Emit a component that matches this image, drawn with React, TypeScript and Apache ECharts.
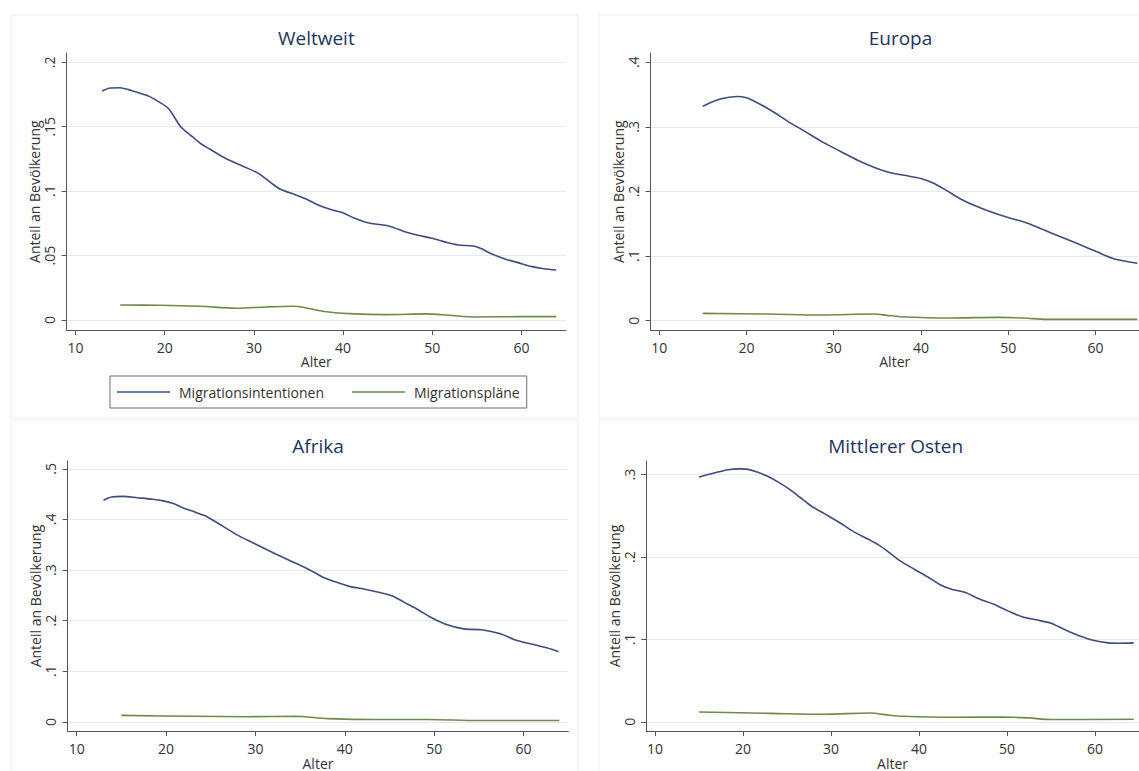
import React, { useEffect, useRef } from "react";
import * as echarts from "echarts";

// ---------- data ----------
const xTicks = [10, 20, 30, 40, 50, 60];
const seriesNames = ["Migrationsintentionen", "Migrationspläne"];
const panelTitles = ["Weltweit", "Europa", "Afrika", "Mittlerer Osten"];
const yAxisTitle = "Anteil an Bevölkerung";
const xAxisTitle = "Alter";

const yTicksWelt = [0, 0.05, 0.1, 0.15, 0.2];
const yTicksEuropa = [0, 0.1, 0.2, 0.3, 0.4];
const yTicksAfrika = [0, 0.1, 0.2, 0.3, 0.4, 0.5];
const yTicksMO = [0, 0.1, 0.2, 0.3];

// Weltweit
const weltIntentAge = [13, 13.9, 15, 16, 18.1, 19.3, 20.4, 21.8, 23.1, 24.1, 25.1, 26.8, 28.9, 30.5, 32, 33, 34.7, 35.9, 37.2, 38.8, 40.1, 41.3, 43, 45.1, 47.1, 48.4, 50, 51.3, 52.9, 54.6, 55.4, 56.7, 58.3, 59.6, 61.2, 62.5, 63.9];
const weltIntent = [0.1778, 0.18, 0.1803, 0.1786, 0.174, 0.1695, 0.1643, 0.15, 0.1423, 0.1366, 0.1325, 0.1255, 0.119, 0.1138, 0.106, 0.1014, 0.097, 0.0937, 0.0893, 0.0854, 0.0828, 0.0789, 0.075, 0.073, 0.068, 0.0657, 0.0634, 0.0608, 0.0582, 0.0574, 0.0556, 0.0512, 0.047, 0.0445, 0.0414, 0.0398, 0.0388];
const weltPlanAge = [15, 19.4, 23.9, 28, 31.4, 34.4, 35.5, 37.7, 40.7, 44.8, 49.3, 51.9, 54.9, 59.8, 63.9];
const weltPlan = [0.0116, 0.0114, 0.0106, 0.0091, 0.0101, 0.0106, 0.0099, 0.0068, 0.0049, 0.0041, 0.0047, 0.0036, 0.0023, 0.0026, 0.0026];

// Europa
const europaIntentAge = [15, 17, 18.9, 20, 21.5, 23.1, 24.7, 26.7, 28.8, 30.8, 32.8, 34.9, 36.5, 38.1, 40, 41.4, 43, 44.6, 46.3, 47.9, 49.9, 52, 54, 56, 58, 60.1, 62.1, 64.8];
const europaIntent = [0.332, 0.343, 0.347, 0.345, 0.3355, 0.323, 0.309, 0.293, 0.276, 0.262, 0.248, 0.236, 0.229, 0.225, 0.22, 0.213, 0.201, 0.188, 0.1775, 0.169, 0.16, 0.152, 0.141, 0.13, 0.119, 0.107, 0.096, 0.089];
const europaPlanAge = [15, 22.6, 28.6, 34.6, 36.1, 37.6, 43.2, 48.8, 51.8, 54.4, 64.8];
const europaPlan = [0.0114, 0.0103, 0.0088, 0.0103, 0.0083, 0.0062, 0.0042, 0.0052, 0.0042, 0.0021, 0.0021];

// Afrika
const afrikaIntentAge = [13, 13.9, 15.2, 16.8, 18.5, 19.7, 20.8, 21.8, 23, 24.3, 25.5, 26.8, 28, 29.7, 31.3, 33, 34.6, 36.3, 37.5, 38.8, 40.4, 42.5, 44.6, 45.4, 46.6, 48.3, 49.5, 51.2, 53.3, 55.3, 57.4, 59, 61.1, 62.6, 63.9];
const afrikaIntent = [0.438, 0.4444, 0.4457, 0.443, 0.44, 0.4367, 0.4315, 0.4238, 0.416, 0.4077, 0.396, 0.3818, 0.369, 0.354, 0.34, 0.3257, 0.3128, 0.298, 0.2864, 0.2774, 0.2683, 0.2612, 0.2528, 0.2483, 0.2367, 0.2206, 0.2077, 0.1935, 0.1838, 0.1819, 0.1741, 0.1625, 0.1529, 0.1464, 0.1387];
const afrikaPlanAge = [15, 23.2, 29.1, 34.4, 38.1, 43.7, 49.3, 54.9, 64];
const afrikaPlan = [0.0129, 0.011, 0.0103, 0.011, 0.0065, 0.0046, 0.0046, 0.0026, 0.0026];

// Mittlerer Osten
const moIntentAge = [15, 16.7, 18.3, 19.6, 20.4, 21.6, 22.8, 24, 25.3, 26.5, 27.7, 29.3, 31, 32.6, 34.2, 35.4, 36.7, 37.9, 39.5, 41.1, 42.4, 43.6, 45.2, 46.8, 48.5, 50.1, 51.7, 53.4, 55, 56.6, 58.2, 59.9, 61.5, 62.7, 64.4];
const moIntent = [0.2972, 0.302, 0.306, 0.3071, 0.3067, 0.3032, 0.298, 0.291, 0.2822, 0.2723, 0.2623, 0.2524, 0.2417, 0.2306, 0.2219, 0.2148, 0.2049, 0.195, 0.185, 0.1752, 0.1664, 0.1613, 0.1573, 0.1494, 0.1427, 0.1347, 0.1276, 0.1236, 0.1197, 0.1118, 0.1046, 0.0987, 0.0959, 0.0955, 0.0959];
const moPlanAge = [15, 23.2, 29.2, 34.4, 36.7, 38.2, 43.8, 49.4, 52.4, 55, 64.4];
const moPlan = [0.0119, 0.0103, 0.0092, 0.0107, 0.008, 0.0068, 0.0056, 0.0059, 0.0048, 0.0028, 0.0032];

// ---------- styling / layout ----------
const FONT = "'Open Sans', 'Noto Sans', sans-serif";
const BLUE = "#3f4c7f";
const GREEN = "#6e8b4c";
const TITLE_COLOR = "#26345c";
const TEXT_COLOR = "#333333";
const AXIS_COLOR = "#555555";
const GRID_COLOR = "#e5e8ee";

const panels = [
  { title: panelTitles[0], left: 66.6, top: 53.3, width: 499.4, height: 276.7, ymin: -0.0078, ymax: 0.207, yTicks: yTicksWelt, intentAge: weltIntentAge, intent: weltIntent, planAge: weltPlanAge, plan: weltPlan },
  { title: panelTitles[1], left: 650.5, top: 53.3, width: 500, height: 276.7, ymin: -0.0144, ymax: 0.4139, yTicks: yTicksEuropa, intentAge: europaIntentAge, intent: europaIntent, planAge: europaPlanAge, plan: europaPlan },
  { title: panelTitles[2], left: 67.7, top: 461, width: 500.6, height: 275.7, ymin: -0.0182, ymax: 0.5155, yTicks: yTicksAfrika, intentAge: afrikaIntentAge, intent: afrikaIntent, planAge: afrikaPlanAge, plan: afrikaPlan },
  { title: panelTitles[3], left: 646.2, top: 461, width: 499, height: 275.7, ymin: -0.0112, ymax: 0.3166, yTicks: yTicksMO, intentAge: moIntentAge, intent: moIntent, planAge: moPlanAge, plan: moPlan },
];

const fmtY = (v: number) => (v === 0 ? "0" : String(+v.toFixed(4)).replace(/^0\./, "."));

function zip(a: number[], b: number[]) {
  return a.map((x, i) => [x, b[i]]);
}

export default function App() {
  const ref = useRef<HTMLDivElement>(null);
  useEffect(() => {
    if (!ref.current) return;
    const chart = echarts.init(ref.current, null, { renderer: "svg" });

    const grid: any[] = [];
    const xAxis: any[] = [];
    const yAxis: any[] = [];
    const series: any[] = [];
    const graphic: any[] = [];

    // faint panel frames
    const frames = [
      [11, 15, 567, 403],
      [599, 15, 560, 403],
      [11, 420, 567, 360],
      [599, 420, 560, 360],
    ];
    frames.forEach((f) => {
      graphic.push({ type: "rect", shape: { x: f[0], y: f[1], width: f[2], height: f[3] }, style: { fill: "none", stroke: "#eeeeee", lineWidth: 1 }, silent: true, z: -10 });
    });

    panels.forEach((p, i) => {
      grid.push({ left: p.left, top: p.top, width: p.width, height: p.height, containLabel: false });
      xAxis.push({
        type: "value",
        gridIndex: i,
        min: 9,
        max: 65,
        name: xAxisTitle,
        nameLocation: "middle",
        nameGap: 22,
        nameTextStyle: { fontFamily: FONT, fontSize: 14, color: TEXT_COLOR },
        axisLine: { show: true, onZero: false, lineStyle: { color: AXIS_COLOR, width: 1 } },
        axisTick: { show: true, length: 5, customValues: xTicks, lineStyle: { color: AXIS_COLOR } },
        axisLabel: { customValues: xTicks, margin: 10, fontFamily: FONT, fontSize: 14, color: TEXT_COLOR },
        splitLine: { show: false },
      });
      yAxis.push({
        type: "value",
        gridIndex: i,
        min: p.ymin,
        max: p.ymax,
        name: yAxisTitle,
        nameLocation: "middle",
        nameGap: 24,
        nameTextStyle: { fontFamily: FONT, fontSize: 14, color: TEXT_COLOR },
        axisLine: { show: true, onZero: false, lineStyle: { color: AXIS_COLOR, width: 1 } },
        axisTick: { show: true, length: 5, customValues: p.yTicks, lineStyle: { color: AXIS_COLOR } },
        axisLabel: { customValues: p.yTicks, rotate: 90, margin: 10, fontFamily: FONT, fontSize: 14, color: TEXT_COLOR, formatter: fmtY },
        splitLine: { show: true, lineStyle: { color: GRID_COLOR, width: 1 } },
      });
      series.push({
        name: seriesNames[0],
        type: "line",
        xAxisIndex: i,
        yAxisIndex: i,
        data: zip(p.intentAge, p.intent),
        showSymbol: false,
        smooth: 0.3,
        lineStyle: { color: BLUE, width: 1.6 },
        itemStyle: { color: BLUE },
      });
      series.push({
        name: seriesNames[1],
        type: "line",
        xAxisIndex: i,
        yAxisIndex: i,
        data: zip(p.planAge, p.plan),
        showSymbol: false,
        smooth: 0.3,
        lineStyle: { color: GREEN, width: 1.6 },
        itemStyle: { color: GREEN },
      });
      graphic.push({
        type: "text",
        x: p.left + p.width / 2,
        y: p.top - 15,
        style: { text: p.title, font: `19px ${FONT}`, fill: TITLE_COLOR, textAlign: "center", textVerticalAlign: "middle" },
        silent: true,
      });
    });

    chart.setOption({
      animation: false,
      backgroundColor: "#ffffff",
      grid,
      xAxis,
      yAxis,
      series,
      graphic,
      legend: {
        data: seriesNames,
        left: 110,
        top: 376,
        orient: "horizontal",
        icon: "rect",
        itemWidth: 53,
        itemHeight: 1.6,
        itemGap: 28,
        padding: [9, 7, 9, 7],
        borderColor: "#6e6e6e",
        borderWidth: 1,
        textStyle: { fontFamily: FONT, fontSize: 14, color: TEXT_COLOR, padding: [0, 0, 0, 4] },
        selectedMode: false,
      },
    });
    return () => chart.dispose();
  }, []);
  return <div ref={ref} style={{ position: "fixed", left: 0, top: 0, width: 1139, height: 771, overflow: "hidden" }} />;
}
